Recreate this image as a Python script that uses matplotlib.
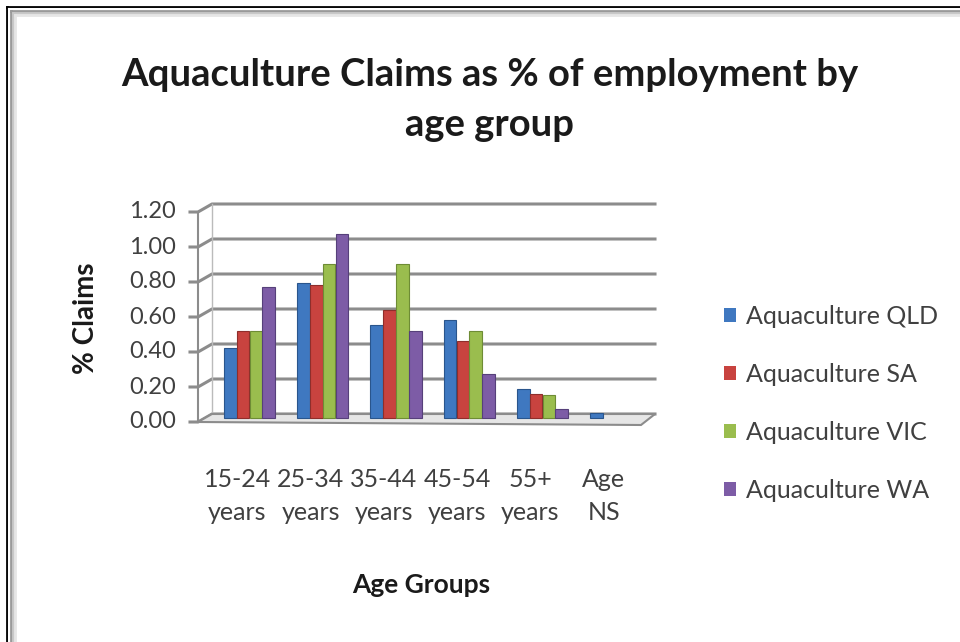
import matplotlib
matplotlib.use("Agg")
import matplotlib.pyplot as plt
import numpy as np
from matplotlib.lines import Line2D
from matplotlib.patches import Polygon
from matplotlib.transforms import offset_copy, IdentityTransform

plt.rcParams['font.family'] = ['Lato', 'DejaVu Sans']

categories = ["15-24\nyears", "25-34\nyears", "35-44\nyears", "45-54\nyears", "55+\nyears", "Age\nNS"]
series_names = ["Aquaculture QLD", "Aquaculture SA", "Aquaculture VIC", "Aquaculture WA"]
qld = [0.40, 0.77, 0.53, 0.56, 0.165, 0.03]
sa = [0.50, 0.76, 0.62, 0.44, 0.14, 0.0]
vic = [0.50, 0.88, 0.88, 0.50, 0.13, 0.0]
wa = [0.75, 1.05, 0.50, 0.25, 0.05, 0.0]
y_ticks = [0.0, 0.2, 0.4, 0.6, 0.8, 1.0, 1.2]
y_tick_labels = ["0.00", "0.20", "0.40", "0.60", "0.80", "1.00", "1.20"]

colors = ["#3F78C0", "#C8433F", "#9ABD4E", "#7D5CA6"]
edges = ["#2A558C", "#8E2E2B", "#6E8C35", "#56407A"]

W, H = 960, 642
fig = plt.figure(figsize=(W / 100, H / 100), dpi=100)
fig.patch.set_facecolor("white")

def fx(px):
    return px / W

def fy(py):
    return 1 - py / H

ax = fig.add_axes([fx(198), fy(422), fx(641) - fx(198), fy(212) - fy(422)])
ax.set_facecolor("none")
x = np.arange(len(categories))
xmin = -(242.5 - 198) / 73.25
xmax = xmin + (641 - 198) / 73.25
ax.set_xlim(xmin, xmax)
ax.set_ylim(0, 1.2)
for s in ax.spines.values():
    s.set_visible(False)
ax.set_xticks([])
ax.set_yticks([])

fig.canvas.draw()
DX, DY = 14, 8

def disp(xd, yd):
    return ax.transData.transform((xd, yd))

def add_line(xs, ys, **kw):
    ln = Line2D(xs, ys, transform=IdentityTransform(), clip_on=False, **kw)
    ax.add_artist(ln)

# back wall gridlines with left-wall slant and tick marks
for t in y_ticks:
    p0 = disp(xmin, t)
    xs = [p0[0] - 8, p0[0], p0[0] + DX, disp(xmax, t)[0] + DX]
    ys = [p0[1], p0[1], p0[1] + DY, p0[1] + DY]
    add_line(xs, ys, color="#8C8C8C", lw=2.2, zorder=1)
pb = disp(xmin, 0)
pt = disp(xmin, 1.2)
add_line([pb[0], pt[0]], [pb[1], pt[1]], color="#8C8C8C", lw=1.5, zorder=1)
add_line([pb[0] + DX, pt[0] + DX], [pb[1] + DY, pt[1] + DY], color="#BBBBBB", lw=1.0, zorder=1)
# floor
pr = disp(xmax, 0)
floor = Polygon([[pb[0], pb[1]], [pr[0], pr[1] - 3], [pr[0] + DX, pr[1] + DY], [pb[0] + DX, pb[1] + DY]],
                closed=True, transform=IdentityTransform(), facecolor="#E6E6E6", edgecolor="#8C8C8C",
                lw=1.5, zorder=1.5, clip_on=False)
ax.add_artist(floor)

# bars
width = 0.175
bar_tr = offset_copy(ax.transData, fig=fig, x=DX / 2, y=DY / 2, units="dots")
for i, (vals, c, ec) in enumerate(zip([qld, sa, vic, wa], colors, edges)):
    offs = (i - 1.5) * width
    bars = ax.bar(x + offs, vals, width=width * 0.98, color=c, edgecolor=ec, linewidth=0.8,
                  transform=bar_tr, label=series_names[i], zorder=3)
    for b, v in zip(bars, vals):
        b.set_clip_on(False)
        if v <= 0:
            b.set_visible(False)

# y tick labels
for t, lab in zip(y_ticks, y_tick_labels):
    ax.text(xmin, t, lab, transform=offset_copy(ax.transData, fig=fig, x=-22, y=0, units="dots"),
            ha="right", va="center", fontsize=17, color="#404040")

# x tick labels
for xi, lab in zip(x, categories):
    ax.text(xi - 0.07, 0, lab, transform=offset_copy(ax.transData, fig=fig, x=0, y=-46, units="dots"),
            ha="center", va="top", fontsize=18, color="#404040", linespacing=1.55)

# title and axis labels
fig.text(fx(490), fy(75), "Aquaculture Claims as % of employment by", ha="center", va="center",
         fontsize=27.5, fontweight="bold", color="#1A1A1A")
fig.text(fx(490), fy(125), "age group", ha="center", va="center",
         fontsize=27.5, fontweight="bold", color="#1A1A1A")
fig.text(fx(86), fy(318), "% Claims", ha="center", va="center", rotation=90,
         fontsize=20, fontweight="bold", color="#1A1A1A")
fig.text(fx(421), fy(585), "Age Groups", ha="center", va="center",
         fontsize=19, fontweight="bold", color="#1A1A1A")

# legend
handles = [plt.Rectangle((0, 0), 1, 1, facecolor=c, edgecolor="none") for c in colors]
leg = fig.legend(handles, series_names, loc="center left", bbox_to_anchor=(fx(701), fy(403)),
                 frameon=False, fontsize=18, handlelength=0.5, handleheight=0.5,
                 handletextpad=0.4, labelspacing=1.4, labelcolor="#404040")

# outer border (top and left)
for k, (col, lw) in enumerate([("#000000", 2.0), ("#FFFFFF", 1.5), ("#9A9A9A", 2.0), ("#C8C8C8", 2.0), ("#E6E6E6", 2.0)]):
    off = [7, 9, 11, 13, 15][k]
    fig.add_artist(Line2D([off, W], [H - off, H - off], transform=IdentityTransform(), color=col, lw=lw, zorder=5))
    fig.add_artist(Line2D([off, off], [0, H - off], transform=IdentityTransform(), color=col, lw=lw, zorder=5))

fig.savefig("out.png", dpi=100, facecolor="white")
